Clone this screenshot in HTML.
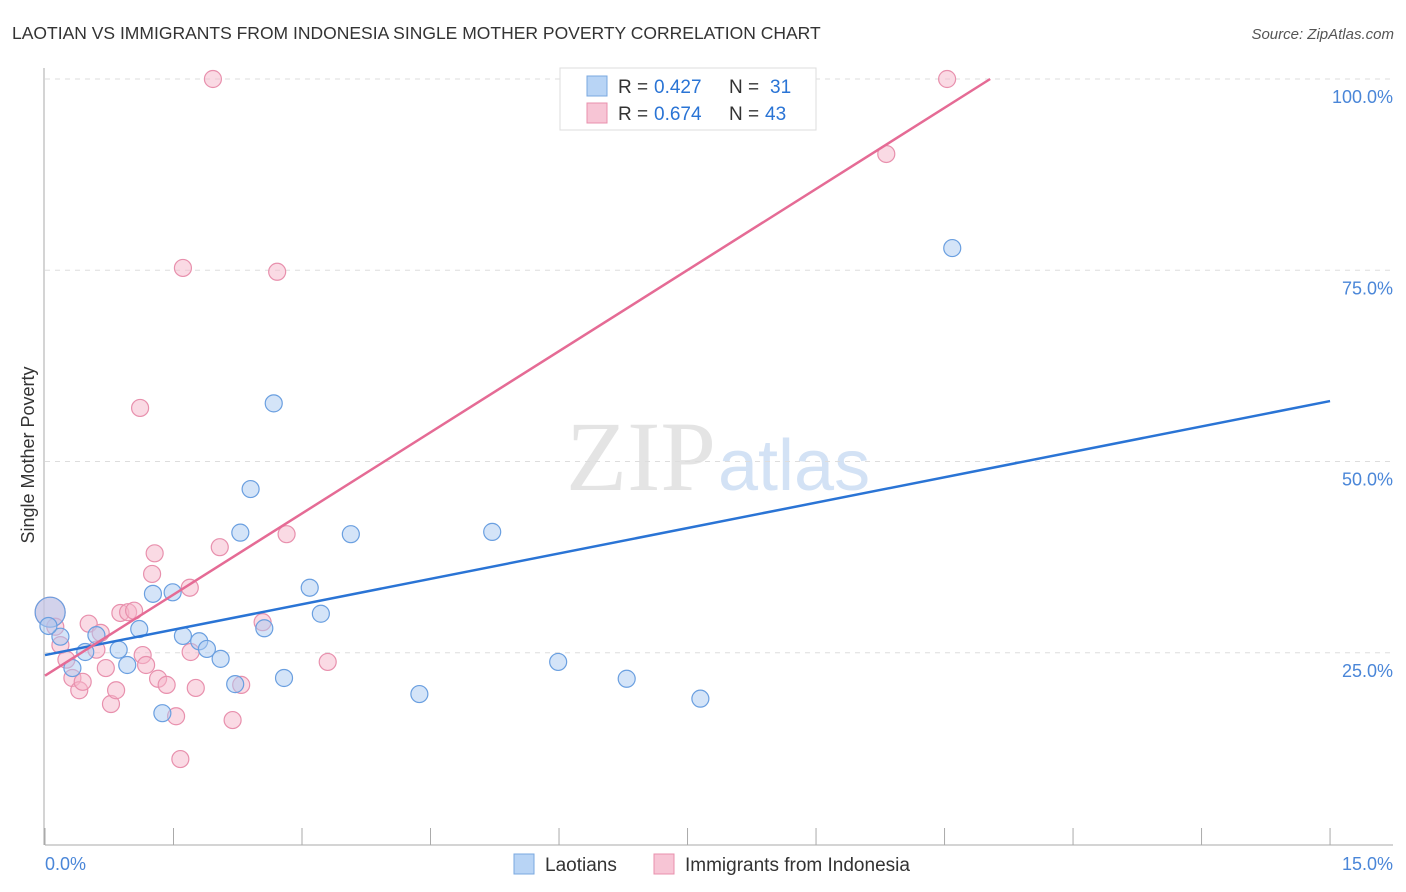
<!DOCTYPE html>
<html><head><meta charset="utf-8"><style>
body{margin:0;background:#fff;font-family:"Liberation Sans",sans-serif;}
svg{display:block}
</style></head><body>
<svg id="chart" width="1406" height="892">
<text x="12" y="39" font-size="17.5" fill="#333">LAOTIAN VS IMMIGRANTS FROM INDONESIA SINGLE MOTHER POVERTY CORRELATION CHART</text>
<text x="1394" y="39" font-size="15" fill="#555" font-style="italic" text-anchor="end">Source: ZipAtlas.com</text>
<text x="716" y="490" font-size="100" fill="#e4e4e4" font-family="Liberation Serif,serif" text-anchor="end">ZIP</text>
<text x="718" y="490" font-size="72" fill="#d3e2f5">atlas</text>
<text x="34" y="455" font-size="18" fill="#333" transform="rotate(-90 34 455)" text-anchor="middle">Single Mother Poverty</text>
<g id="grid"></g><g id="axes"></g><g id="pts"></g><g id="lines"></g>
<g>
<rect x="560" y="68" width="256" height="62" fill="#fff" stroke="#ddd"/>
<rect x="587" y="76" width="20" height="20" fill="#b8d4f5" stroke="#7aa8e0"/>
<rect x="587" y="103" width="20" height="20" fill="#f7c5d5" stroke="#e890ad"/>
<text x="618" y="93" font-size="19" fill="#333">R =</text>
<text x="654" y="93" font-size="19" fill="#2a74d5">0.427</text>
<text x="729" y="93" font-size="19" fill="#333">N =</text>
<text x="770" y="93" font-size="19" fill="#2a74d5">31</text>
<text x="618" y="120" font-size="19" fill="#333">R =</text>
<text x="654" y="120" font-size="19" fill="#2a74d5">0.674</text>
<text x="729" y="120" font-size="19" fill="#333">N =</text>
<text x="765" y="120" font-size="19" fill="#2a74d5">43</text>
</g>
<g>
<rect x="514" y="854" width="20" height="20" fill="#b8d4f5" stroke="#7aa8e0"/>
<text x="545" y="871" font-size="19" fill="#333">Laotians</text>
<rect x="654" y="854" width="20" height="20" fill="#f7c5d5" stroke="#e890ad"/>
<text x="685" y="871" font-size="19" fill="#333">Immigrants from Indonesia</text>
</g>
</svg>
<script>
const blueX=[0.06,0.18,0.32,0.47,0.60,0.86,0.96,1.10,1.26,1.37,1.49,1.61,1.80,1.89,2.05,2.22,2.28,2.40,2.56,2.67,2.79,3.09,3.22,3.57,4.37,5.22,5.99,6.79,7.65,10.59,0.04];
const blueY=[30.3,27.1,23.0,25.1,27.3,25.4,23.4,28.1,32.7,17.1,32.9,27.2,26.5,25.5,24.2,20.9,40.7,46.4,28.2,57.6,21.7,33.5,30.1,40.5,19.6,40.8,23.8,21.6,19.0,77.9,28.5];
const pinkX=[0.06,0.12,0.18,0.25,0.32,0.40,0.44,0.51,0.60,0.65,0.71,0.77,0.83,0.88,0.97,1.04,1.11,1.14,1.18,1.25,1.28,1.32,1.42,1.53,1.58,1.61,1.69,1.70,1.76,1.96,2.04,2.19,2.29,2.54,2.71,2.82,3.30,9.82,10.53];
const pinkY=[30.3,28.4,26.0,24.1,21.7,20.1,21.2,28.8,25.4,27.6,23.0,18.3,20.1,30.2,30.3,30.5,57.0,24.7,23.4,35.3,38.0,21.6,20.8,16.7,11.1,75.3,33.5,25.1,20.4,100,38.8,16.2,20.8,29.0,74.8,40.5,23.8,90.2,100];
const blueLine=[24.7,57.9];
const pinkLine=[22.0,7.07];
const yTicks=[25,50,75,100];
const xTicks=[0,1.5,3,4.5,6,7.5,9,10.5,12,13.5,15];
const sx=v=>45+v*85.67, sy=v=>844-v*7.65;
const NS='http://www.w3.org/2000/svg';
function mk(t,a,p){const e=document.createElementNS(NS,t);for(const k in a)e.setAttribute(k,a[k]);p.appendChild(e);return e;}
const grid=document.getElementById('grid'),axes=document.getElementById('axes'),pts=document.getElementById('pts'),lines=document.getElementById('lines');
yTicks.forEach(v=>{const l=mk('line',{x1:45,x2:1393,y1:sy(v),y2:sy(v),stroke:'#ddd','stroke-dasharray':'5,5'},grid);


const t=mk('text',{x:1393,y:sy(v)+24,'font-size':18,fill:'#4a86d8','text-anchor':'end'},axes);t.textContent=v.toFixed(1)+'%';

});
const ax=mk('line',{x1:45,x2:1393,y1:845,y2:845,stroke:'#aaa'},axes);


const ay=mk('line',{x1:44,x2:44,y1:68,y2:845,stroke:'#aaa'},axes);


xTicks.forEach(v=>{const l=mk('line',{x1:sx(v),x2:sx(v),y1:828,y2:845,stroke:'#aaa'},axes);

});
let t0=mk('text',{x:45,y:870,'font-size':18,fill:'#4a86d8'},axes);t0.textContent='0.0%';


let t1=mk('text',{x:1393,y:870,'font-size':18,fill:'#4a86d8','text-anchor':'end'},axes);t1.textContent='15.0%';


function dots(X,Y,f,s,name){X.forEach((x,i)=>{const big=i===0;const c=mk('circle',{cx:sx(x),cy:sy(Y[i]),r:big?15:8.5,fill:f,'fill-opacity':0.5,stroke:s,'stroke-width':1.2},pts);

});}
dots(pinkX,pinkY,'#f5b6ca','#e890ad','point-indonesia');
dots(blueX,blueY,'#a9c9f2','#6a9fe0','point-laotian');
const bl=mk('line',{x1:sx(0),y1:sy(blueLine[0]),x2:sx(15),y2:sy(blueLine[1]),stroke:'#2a74d5','stroke-width':2.5},lines);


const xe=(100-pinkLine[0])/pinkLine[1];
const pl=mk('line',{x1:sx(0),y1:sy(pinkLine[0]),x2:sx(xe),y2:sy(100),stroke:'#e56b95','stroke-width':2.5},lines);


</script>
</body></html>
